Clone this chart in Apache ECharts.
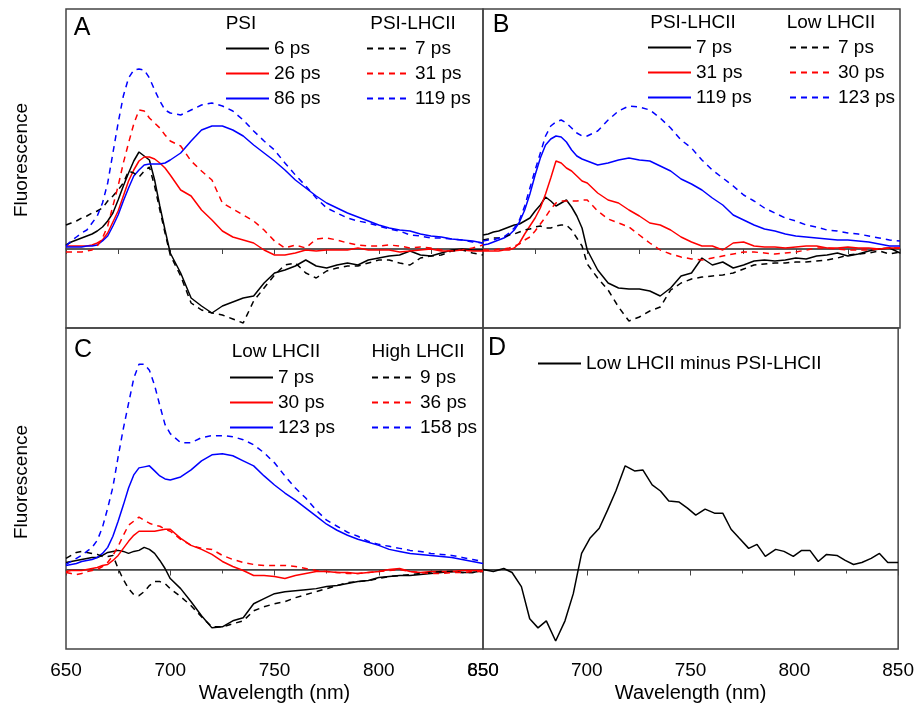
<!DOCTYPE html>
<html>
<head>
<meta charset="utf-8">
<script src="https://cdn.jsdelivr.net/npm/echarts@6/dist/echarts.min.js"></script>
<style>
  html, body { margin: 0; padding: 0; background: #fff; }
  #chart { width: 917px; height: 716px; }
</style>
</head>
<body>
<div id="chart"></div>
<script>
// ---------- DATA ----------
const wavelengths = [650, 652.5, 655, 657.5, 660, 662.5, 665, 667.5, 670, 672.5, 675, 677.5, 680, 682.5, 685, 687.5, 690, 692.5, 695, 697.5, 700,
  705, 710, 715, 720, 725, 730, 735, 740, 745, 750, 755, 760, 765, 770, 775, 780, 785, 790, 795, 800, 805, 810, 815, 820, 825, 830, 835, 840, 845, 850];

// Panel A
const aPsi6 = [4,7,9,11,13,15,18,22,28,36,49,63,76,88,97,93,89,69,43,19,-4,
  -24,-49,-57,-64,-57,-53,-49,-47,-34,-24,-21,-17,-11,-17,-19,-16,-14,-16,-11,-9,-7,-6,-2,-6,-7,-4,-1,0,-1,-1];
const aPsi26 = [3,3,3,3,3,4,6,9,16,27,38,53,68,79,88,92,92,90,86,81,74,
  59,53,39,29,18,12,9,6,-1,-6,-6,-4,-1,-2,-1,-1,-1,1,-1,-1,-1,-3,-2,-1,0,-2,-2,-1,-2,-2];
const aPsi86 = [2,2,2,2,3,3,4,8,13,23,34,48,61,73,79,84,85,85,85,86,89,
  96,108,119,123,123,119,113,104,96,88,79,69,61,53,46,41,36,32,28,24,21,19,18,15,13,12,10,9,8,6];
const aLhc7 = [24,26,28,31,33,36,38,41,48,53,59,66,78,76,72,78,82,63,39,16,-6,
  -27,-54,-61,-64,-66,-70,-74,-52,-39,-26,-16,-14,-24,-29,-22,-19,-17,-17,-14,-11,-11,-14,-16,-9,-7,-6,-2,-1,-4,-6];
const aLhc31 = [-3,-3,-3,-3,-2,-1,3,11,23,43,63,86,106,125,139,138,131,126,121,114,108,
  103,88,78,69,46,40,34,28,19,8,1,4,1,10,11,9,6,4,3,3,4,3,1,2,1,-1,-2,-1,1,4];
const aLhc119 = [3,8,12,16,19,26,33,46,66,96,126,153,171,179,180,179,171,159,148,139,136,
  134,139,144,146,143,138,129,118,108,99,86,74,63,51,41,36,31,28,26,23,20,18,14,13,11,11,10,9,7,6];

// Panel B
const bLhc7 = [14,15,17,18,20,22,24,25,28,31,38,44,52,48,43,46,49,42,33,21,-1,
  -21,-34,-39,-40,-40,-42,-47,-39,-27,-24,-9,-16,-13,-19,-16,-12,-11,-12,-11,-9,-10,-7,-6,-4,-7,-5,-2,0,1,-4];
const bLhc31 = [-2,-2,-2,-2,-1,-1,1,6,15,23,31,41,55,71,88,86,81,78,73,68,66,
  56,49,46,39,33,26,24,19,12,7,3,3,-1,6,7,3,2,2,1,2,3,3,1,1,2,1,1,0,1,1];
const bLhc119 = [4,5,7,9,11,14,19,27,39,55,74,91,104,110,113,112,107,99,93,90,88,
  84,86,89,91,89,88,83,78,70,65,59,51,44,34,29,24,20,18,15,13,12,11,10,9,9,8,7,5,3,3];
const bLow7 = [9,10,11,11,12,14,15,17,19,20,22,23,21,21,23,24,24,19,11,3,-15,
  -29,-41,-58,-72,-68,-62,-58,-41,-34,-30,-28,-27,-26,-24,-20,-16,-15,-14,-14,-13,-13,-12,-11,-9,-6,-5,-4,-2,-5,-3];
const bLow30 = [-1,-1,-1,0,0,1,3,5,9,12,18,25,32,40,46,48,48,48,48,49,49,
  38,30,26,22,14,6,-1,-5,-8,-10,-11,-9,-7,-5,-3,-3,-4,-5,-4,-3,-1,1,1,0,-1,-1,-1,0,1,1];
const bLow123 = [8,9,9,11,12,16,21,29,43,61,79,96,113,123,127,129,126,121,116,113,113,
  118,129,138,143,142,139,131,121,109,101,89,79,71,63,54,48,41,36,31,28,24,22,19,18,16,15,13,11,9,8];

// Panel C
const cLow7 = [7,8,9,10,11,12,12,14,17,18,19,18,16,18,19,22,20,16,9,1,-9,
  -19,-32,-46,-58,-57,-51,-48,-34,-29,-24,-22,-21,-20,-19,-17,-16,-14,-12,-11,-8,-7,-6,-6,-5,-4,-3,-2,-3,-3,-1];
const cLow30 = [-2,-1,-1,-1,0,1,2,4,5,9,14,21,28,34,38,38,38,38,39,40,40,
  31,24,20,15,8,3,-1,-6,-6,-7,-9,-6,-4,-2,-2,-3,-3,-4,-3,-2,0,1,-2,-3,-2,-2,-2,-1,-1,-1];
const cLow123 = [4,5,6,8,9,10,12,16,22,33,48,64,81,94,101,102,103,98,93,90,89,
  92,99,108,114,115,113,108,103,93,84,76,69,61,53,45,39,34,30,27,24,20,18,16,15,14,13,12,10,8,6];
const cHigh9 = [11,14,17,18,17,16,15,13,13,14,1,-10,-19,-25,-26,-22,-16,-12,-12,-14,-19,
  -27,-36,-47,-57,-57,-54,-51,-41,-37,-34,-32,-28,-25,-22,-19,-16,-13,-12,-11,-9,-7,-6,-5,-4,-3,-2,-2,-3,-3,-2];
const cHigh36 = [-3,-4,-5,-4,-2,-1,0,3,7,14,23,34,44,48,52,49,46,44,43,40,38,
  30,24,21,20,14,10,7,5,4,4,4,3,1,-1,-2,-3,-4,-4,-3,-2,-1,0,-2,-3,-4,-4,-3,-3,-2,-2];
const cHigh158 = [5,8,11,14,18,22,29,42,61,82,112,140,165,190,204,204,198,183,163,144,135,
  126,126,131,133,133,132,129,124,116,106,93,81,71,59,49,43,37,33,28,25,23,21,19,18,16,15,14,12,10,8];

// Panel D
const dWavelengths = [650,655,660,664,668.5,672.5,676.5,680.5,685,689.5,693.5,697.5,701.5,706,710,714,718.5,723,727,731.5,
  735.5,739.5,744.5,748.5,752.5,757,761.5,765.5,769.5,773.5,778,782,786,791,795,799.5,803.5,807.5,811.5,815.5,
  820.5,824.5,828.5,832.5,837,841,845,850];
const dDiff = [0,-2,1,-3,-17,-49,-58,-51,-71,-51,-24,16,31,41,59,78,103,98,99,84,
  78,68,67,61,54,60,56,56,40,31,21,25,13,20,18,13,19,19,8,15,
  14,9,5,7,11,16,7,7];

const xTicks = [650, 700, 750, 800, 850];

// ---------- CHART ----------
const FONT = 'Liberation Sans, Arial, Helvetica, sans-serif';
const BLACK = '#000000', RED = '#ff0000', BLUE = '#0000ff';
const FRAME = '#444444';
const DASH = [6, 5];

function pairs(xs, ys) { return xs.map((x, i) => [x, ys[i]]); }

const seriesList = [];
function addSeries(name, xs, ys, color, dashed, g) {
  seriesList.push({
    name: name, type: 'line', xAxisIndex: g, yAxisIndex: g,
    data: pairs(xs, ys), symbol: 'none', smooth: false, silent: true,
    lineStyle: { color: color, width: 1.5, type: dashed ? DASH : 'solid' },
    itemStyle: { color: color },
    z: 3
  });
}
// zero lines
for (let g = 0; g < 4; g++) {
  seriesList.push({
    type: 'line', xAxisIndex: g, yAxisIndex: g, data: [[xTicks[0], 0], [xTicks[xTicks.length - 1], 0]],
    symbol: 'none', silent: true, lineStyle: { color: FRAME, width: 1 }, z: 2
  });
}
addSeries('A1|6 ps', wavelengths, aPsi6, BLACK, false, 0);
addSeries('A2|26 ps', wavelengths, aPsi26, RED, false, 0);
addSeries('A3|86 ps', wavelengths, aPsi86, BLUE, false, 0);
addSeries('A4|7 ps', wavelengths, aLhc7, BLACK, true, 0);
addSeries('A5|31 ps', wavelengths, aLhc31, RED, true, 0);
addSeries('A6|119 ps', wavelengths, aLhc119, BLUE, true, 0);

addSeries('B1|7 ps', wavelengths, bLhc7, BLACK, false, 1);
addSeries('B2|31 ps', wavelengths, bLhc31, RED, false, 1);
addSeries('B3|119 ps', wavelengths, bLhc119, BLUE, false, 1);
addSeries('B4|7 ps', wavelengths, bLow7, BLACK, true, 1);
addSeries('B5|30 ps', wavelengths, bLow30, RED, true, 1);
addSeries('B6|123 ps', wavelengths, bLow123, BLUE, true, 1);

addSeries('C1|7 ps', wavelengths, cLow7, BLACK, false, 2);
addSeries('C2|30 ps', wavelengths, cLow30, RED, false, 2);
addSeries('C3|123 ps', wavelengths, cLow123, BLUE, false, 2);
addSeries('C4|9 ps', wavelengths, cHigh9, BLACK, true, 2);
addSeries('C5|36 ps', wavelengths, cHigh36, RED, true, 2);
addSeries('C6|158 ps', wavelengths, cHigh158, BLUE, true, 2);

addSeries('D1|Low LHCII minus PSI-LHCII', dWavelengths, dDiff, BLACK, false, 3);

const grids = [
  { left: 66, right: 434, top: 9, bottom: 388 },
  { left: 483, right: 17, top: 9, bottom: 388 },
  { left: 66, right: 434, top: 328, bottom: 67 },
  { left: 483, right: 17, top: 328, bottom: 67 }
].map(g => Object.assign(g, { show: true, borderColor: FRAME, borderWidth: 1.5, containLabel: false }));

function xAxisFor(g, bottomRow) {
  return {
    type: 'value', gridIndex: g, min: xTicks[0], max: xTicks[xTicks.length - 1], interval: xTicks[1] - xTicks[0],
    axisLine: { show: true, lineStyle: { color: FRAME, width: 1.5 } },
    axisTick: { show: true, inside: false, length: bottomRow ? 6 : 5, lineStyle: { color: FRAME } },
    minorTick: { show: true, splitNumber: 2, length: bottomRow ? 4 : 5, lineStyle: { color: FRAME } },
    splitLine: { show: false },
    axisLabel: { show: bottomRow, margin: 12, fontSize: 19, color: '#000', fontFamily: FONT, showMinLabel: true, showMaxLabel: true },
    name: bottomRow ? 'Wavelength (nm)' : '',
    nameLocation: 'middle', nameGap: 34,
    nameTextStyle: { fontSize: 20, color: '#000', fontFamily: FONT }
  };
}
const xAxes = [xAxisFor(0, false), xAxisFor(1, false), xAxisFor(2, true), xAxisFor(3, true)];
const yAxes = [0, 1, 2, 3].map(g => ({ type: 'value', gridIndex: g, min: -79, max: 240, show: false }));

function legendCol(names, left, top) {
  return {
    data: names, left: left, top: top, orient: 'vertical', padding: 0,
    itemWidth: 43, itemHeight: 25, itemGap: 0, selectedMode: false,
    itemStyle: { color: 'rgba(0,0,0,0)', borderWidth: 0, opacity: 0 },
    textStyle: { fontSize: 19, color: '#000', fontFamily: FONT, lineHeight: 25 },
    formatter: n => n.split('|')[1]
  };
}
const legends = [
  legendCol(['A1|6 ps', 'A2|26 ps', 'A3|86 ps'], 225, 36),
  legendCol(['A4|7 ps', 'A5|31 ps', 'A6|119 ps'], 366, 36),
  legendCol(['B1|7 ps', 'B2|31 ps', 'B3|119 ps'], 647, 35),
  legendCol(['B4|7 ps', 'B5|30 ps', 'B6|123 ps'], 789, 35),
  legendCol(['C1|7 ps', 'C2|30 ps', 'C3|123 ps'], 229, 365),
  legendCol(['C4|9 ps', 'C5|36 ps', 'C6|158 ps'], 371, 365),
  legendCol(['D1|Low LHCII minus PSI-LHCII'], 537, 351)
];

function txt(text, x, y, size, rot) {
  return {
    type: 'text', x: x, y: y, rotation: rot || 0, silent: true,
    style: { text: text, fontSize: size, fontFamily: FONT, fill: '#000', align: 'center', verticalAlign: 'middle' }
  };
}
const graphics = [
  txt('A', 82, 28, 25), txt('B', 501, 25, 25), txt('C', 83, 350, 25), txt('D', 497, 348, 25),
  txt('PSI', 241, 24, 19), txt('PSI-LHCII', 413, 24, 19),
  txt('PSI-LHCII', 693, 23, 19), txt('Low LHCII', 831, 23, 19),
  txt('Low LHCII', 276, 352, 19), txt('High LHCII', 418, 352, 19),
  txt('Fluorescence', 22, 160, 19, Math.PI / 2), txt('Fluorescence', 22, 482, 19, Math.PI / 2)
];

const chart = echarts.init(document.getElementById('chart'), null, { renderer: 'canvas' });
chart.setOption({
  animation: false,
  backgroundColor: '#fff',
  textStyle: { fontFamily: FONT },
  grid: grids,
  xAxis: xAxes,
  yAxis: yAxes,
  legend: legends,
  series: seriesList,
  graphic: graphics
});
</script>
</body>
</html>
